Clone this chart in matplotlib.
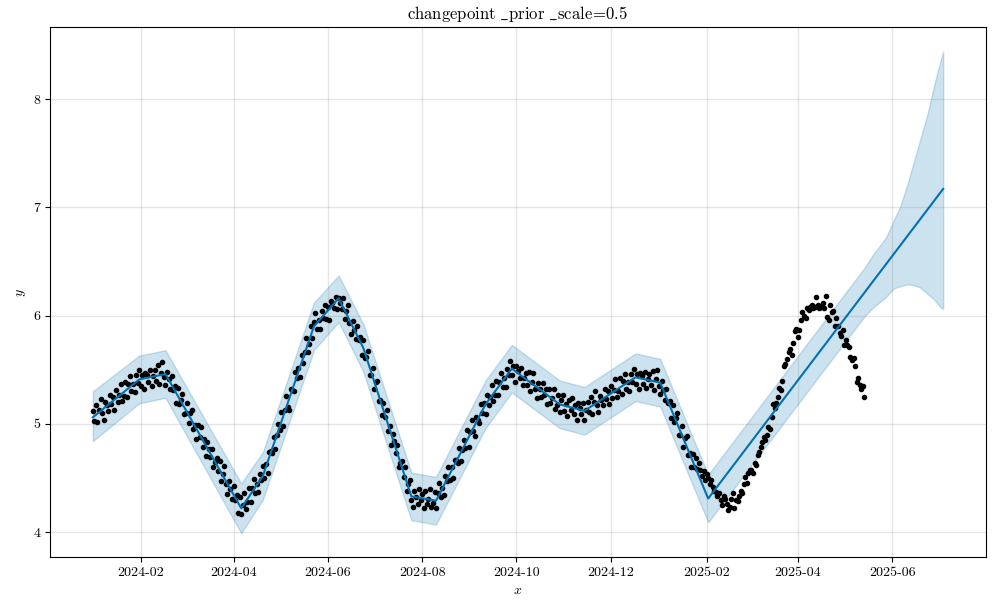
import matplotlib
matplotlib.use("Agg")
import matplotlib.pyplot as plt
import matplotlib.dates as mdates
import numpy as np
import pandas as pd

plt.rcParams['font.family'] = 'serif'
plt.rcParams['font.serif'] = ['cmr10']
plt.rcParams['mathtext.fontset'] = 'cm'
plt.rcParams['axes.unicode_minus'] = False
plt.rcParams['font.size'] = 10

# ---- data ----
obs_start = '2024-01-01'
obs_y = [
    5.12, 5.03, 5.17, 5.02, 5.13, 5.23, 5.10, 5.04, 5.20, 5.17,
    5.12, 5.27, 5.18, 5.25, 5.13, 5.31, 5.20, 5.27, 5.37, 5.21,
    5.26, 5.39, 5.25, 5.37, 5.44, 5.30, 5.37, 5.29, 5.45, 5.38,
    5.50, 5.35, 5.45, 5.32, 5.47, 5.45, 5.39, 5.50, 5.35, 5.44,
    5.50, 5.40, 5.54, 5.37, 5.47, 5.57, 5.43, 5.36, 5.48, 5.41,
    5.32, 5.44, 5.31, 5.35, 5.19, 5.33, 5.18, 5.22, 5.28, 5.09,
    5.10, 5.19, 5.01, 5.10, 5.13, 4.95, 4.99, 4.86, 4.99, 4.88,
    4.97, 4.79, 4.86, 4.70, 4.83, 4.77, 4.69, 4.77, 4.60, 4.65,
    4.68, 4.56, 4.66, 4.47, 4.54, 4.61, 4.44, 4.35, 4.47, 4.40,
    4.31, 4.43, 4.30, 4.34, 4.18, 4.32, 4.17, 4.25, 4.36, 4.21,
    4.28, 4.41, 4.28, 4.41, 4.49, 4.36, 4.44, 4.37, 4.54, 4.48,
    4.61, 4.50, 4.63, 4.55, 4.74, 4.75, 4.73, 4.88, 4.77, 4.90,
    5.00, 4.94, 5.11, 4.98, 5.13, 5.26, 5.16, 5.13, 5.32, 5.31,
    5.30, 5.48, 5.42, 5.52, 5.43, 5.64, 5.56, 5.66, 5.79, 5.66,
    5.74, 5.90, 5.79, 5.94, 6.02, 5.88, 5.96, 5.88, 6.04, 5.98,
    6.10, 5.97, 6.08, 5.96, 6.13, 6.12, 6.07, 6.17, 6.06, 6.16,
    6.12, 6.06, 6.16, 5.97, 6.04, 6.10, 5.93, 5.83, 5.95, 5.87,
    5.78, 5.90, 5.77, 5.80, 5.64, 5.77, 5.61, 5.62, 5.67, 5.45,
    5.45, 5.52, 5.32, 5.39, 5.40, 5.21, 5.22, 5.08, 5.19, 5.06,
    5.13, 4.93, 4.98, 4.80, 4.91, 4.84, 4.73, 4.80, 4.60, 4.64,
    4.66, 4.51, 4.60, 4.38, 4.44, 4.48, 4.30, 4.23, 4.38, 4.32,
    4.26, 4.40, 4.30, 4.35, 4.22, 4.38, 4.26, 4.31, 4.40, 4.23,
    4.27, 4.37, 4.22, 4.36, 4.45, 4.32, 4.41, 4.34, 4.52, 4.47,
    4.60, 4.48, 4.60, 4.50, 4.67, 4.67, 4.64, 4.78, 4.66, 4.76,
    4.85, 4.78, 4.94, 4.79, 4.92, 5.04, 4.93, 4.89, 5.06, 5.04,
    5.01, 5.18, 5.10, 5.19, 5.09, 5.27, 5.17, 5.25, 5.36, 5.21,
    5.27, 5.40, 5.27, 5.39, 5.47, 5.34, 5.42, 5.34, 5.51, 5.45,
    5.58, 5.45, 5.53, 5.39, 5.53, 5.49, 5.42, 5.52, 5.36, 5.42,
    5.47, 5.36, 5.48, 5.30, 5.39, 5.47, 5.32, 5.24, 5.38, 5.32,
    5.25, 5.38, 5.27, 5.32, 5.18, 5.32, 5.19, 5.24, 5.32, 5.14,
    5.17, 5.27, 5.11, 5.22, 5.27, 5.12, 5.18, 5.07, 5.22, 5.13,
    5.24, 5.09, 5.17, 5.04, 5.19, 5.15, 5.09, 5.19, 5.04, 5.13,
    5.20, 5.11, 5.25, 5.09, 5.20, 5.30, 5.17, 5.11, 5.26, 5.22,
    5.17, 5.32, 5.23, 5.30, 5.18, 5.35, 5.24, 5.31, 5.41, 5.25,
    5.30, 5.42, 5.28, 5.40, 5.46, 5.32, 5.39, 5.30, 5.46, 5.39,
    5.51, 5.37, 5.46, 5.32, 5.47, 5.44, 5.37, 5.48, 5.33, 5.41,
    5.46, 5.36, 5.49, 5.31, 5.41, 5.50, 5.35, 5.28, 5.40, 5.31,
    5.22, 5.32, 5.19, 5.21, 5.05, 5.17, 5.02, 5.05, 5.10, 4.90,
    4.90, 4.98, 4.79, 4.87, 4.89, 4.71, 4.73, 4.60, 4.72, 4.60,
    4.68, 4.58, 4.64, 4.57, 4.52, 4.56, 4.48, 4.54, 4.50, 4.44,
    4.48, 4.42, 4.38, 4.37, 4.33, 4.36, 4.30, 4.25, 4.33, 4.31,
    4.26, 4.20, 4.23, 4.31, 4.36, 4.22, 4.30, 4.29, 4.33, 4.38,
    4.36, 4.44, 4.51, 4.45, 4.55, 4.57, 4.57, 4.55, 4.64, 4.62,
    4.71, 4.74, 4.79, 4.83, 4.88, 4.85, 4.90, 4.97, 4.95, 5.06,
    5.18, 5.15, 5.19, 5.25, 5.33, 5.31, 5.40, 5.53, 5.55, 5.60,
    5.66, 5.69, 5.64, 5.75, 5.86, 5.88, 5.80, 5.87, 5.96, 6.03,
    6.00, 5.98, 6.07, 6.05, 6.08, 6.10, 6.07, 6.08, 6.17, 6.10,
    6.07, 6.08, 6.12, 6.07, 6.18, 5.99, 5.96, 6.10, 6.03, 6.04,
    5.90, 5.98, 5.90, 5.84, 5.81, 5.87, 5.73, 5.77, 5.73, 5.71,
    5.62, 5.59, 5.61, 5.53, 5.39, 5.42, 5.36, 5.32, 5.35, 5.25,
]

trend_dates = ['2024-01-01', '2024-01-31', '2024-02-17', '2024-04-06', '2024-04-20',
               '2024-05-23', '2024-06-08', '2024-06-24', '2024-07-25', '2024-08-10',
               '2024-09-11', '2024-09-28', '2024-10-29', '2024-11-14', '2024-12-17',
               '2025-01-02', '2025-02-02', '2025-07-04']
trend_y = [5.06, 5.41, 5.46, 4.22, 4.52,
           5.90, 6.16, 5.70, 4.33, 4.29,
           5.18, 5.51, 5.18, 5.12, 5.43,
           5.38, 4.31, 7.17]

band_dates = ['2024-01-01', '2024-01-31', '2024-02-17', '2024-04-06', '2024-04-20',
              '2024-05-23', '2024-06-08', '2024-06-24', '2024-07-25', '2024-08-10',
              '2024-09-11', '2024-09-28', '2024-10-29', '2024-11-14', '2024-12-17',
              '2025-01-02', '2025-02-02', '2025-05-14', '2025-05-20', '2025-05-28',
              '2025-06-02', '2025-06-06', '2025-06-11', '2025-06-15', '2025-06-19',
              '2025-06-24', '2025-06-28', '2025-07-02', '2025-07-04']
band_lower = [4.84, 5.19, 5.24, 3.99, 4.30,
              5.68, 5.94, 5.48, 4.11, 4.07,
              4.96, 5.29, 4.96, 4.90, 5.21,
              5.16, 4.09, 5.99, 6.08, 6.17,
              6.25, 6.27, 6.29, 6.28, 6.26,
              6.20, 6.15, 6.08, 6.06]
band_upper = [5.30, 5.63, 5.68, 4.45, 4.74,
              6.12, 6.37, 5.92, 4.55, 4.51,
              5.40, 5.73, 5.40, 5.34, 5.65,
              5.60, 4.53, 6.44, 6.57, 6.72,
              6.88, 7.00, 7.22, 7.42, 7.62,
              7.87, 8.12, 8.34, 8.44]

title = r'$\mathrm{changepoint\ \_prior\ \_scale}\!=\!\mathrm{0.5}$'

# ---- plot ----
obs_dates = pd.date_range(obs_start, periods=len(obs_y), freq='D')
td = pd.to_datetime(trend_dates)
bd = pd.to_datetime(band_dates)

fig, ax = plt.subplots(figsize=(10, 6), dpi=100)
ax.plot(obs_dates, obs_y, 'k.')
ax.plot(td, trend_y, ls='-', c='#0072B2')
ax.fill_between(bd, band_lower, band_upper, color='#0072B2', alpha=0.2)
ax.grid(True, which='major', c='gray', ls='-', lw=1, alpha=0.2)
ax.xaxis.set_major_locator(mdates.MonthLocator(bymonth=[2, 4, 6, 8, 10, 12]))
ax.xaxis.set_major_formatter(mdates.DateFormatter('%Y-%m'))
ax.set_xlabel('$x$')
ax.set_ylabel('$y$')
ax.set_title(title, fontsize=12)
fig.subplots_adjust(left=0.0503, right=0.9857, bottom=0.0712, top=0.9545)
fig.savefig('out.png', dpi=100)
